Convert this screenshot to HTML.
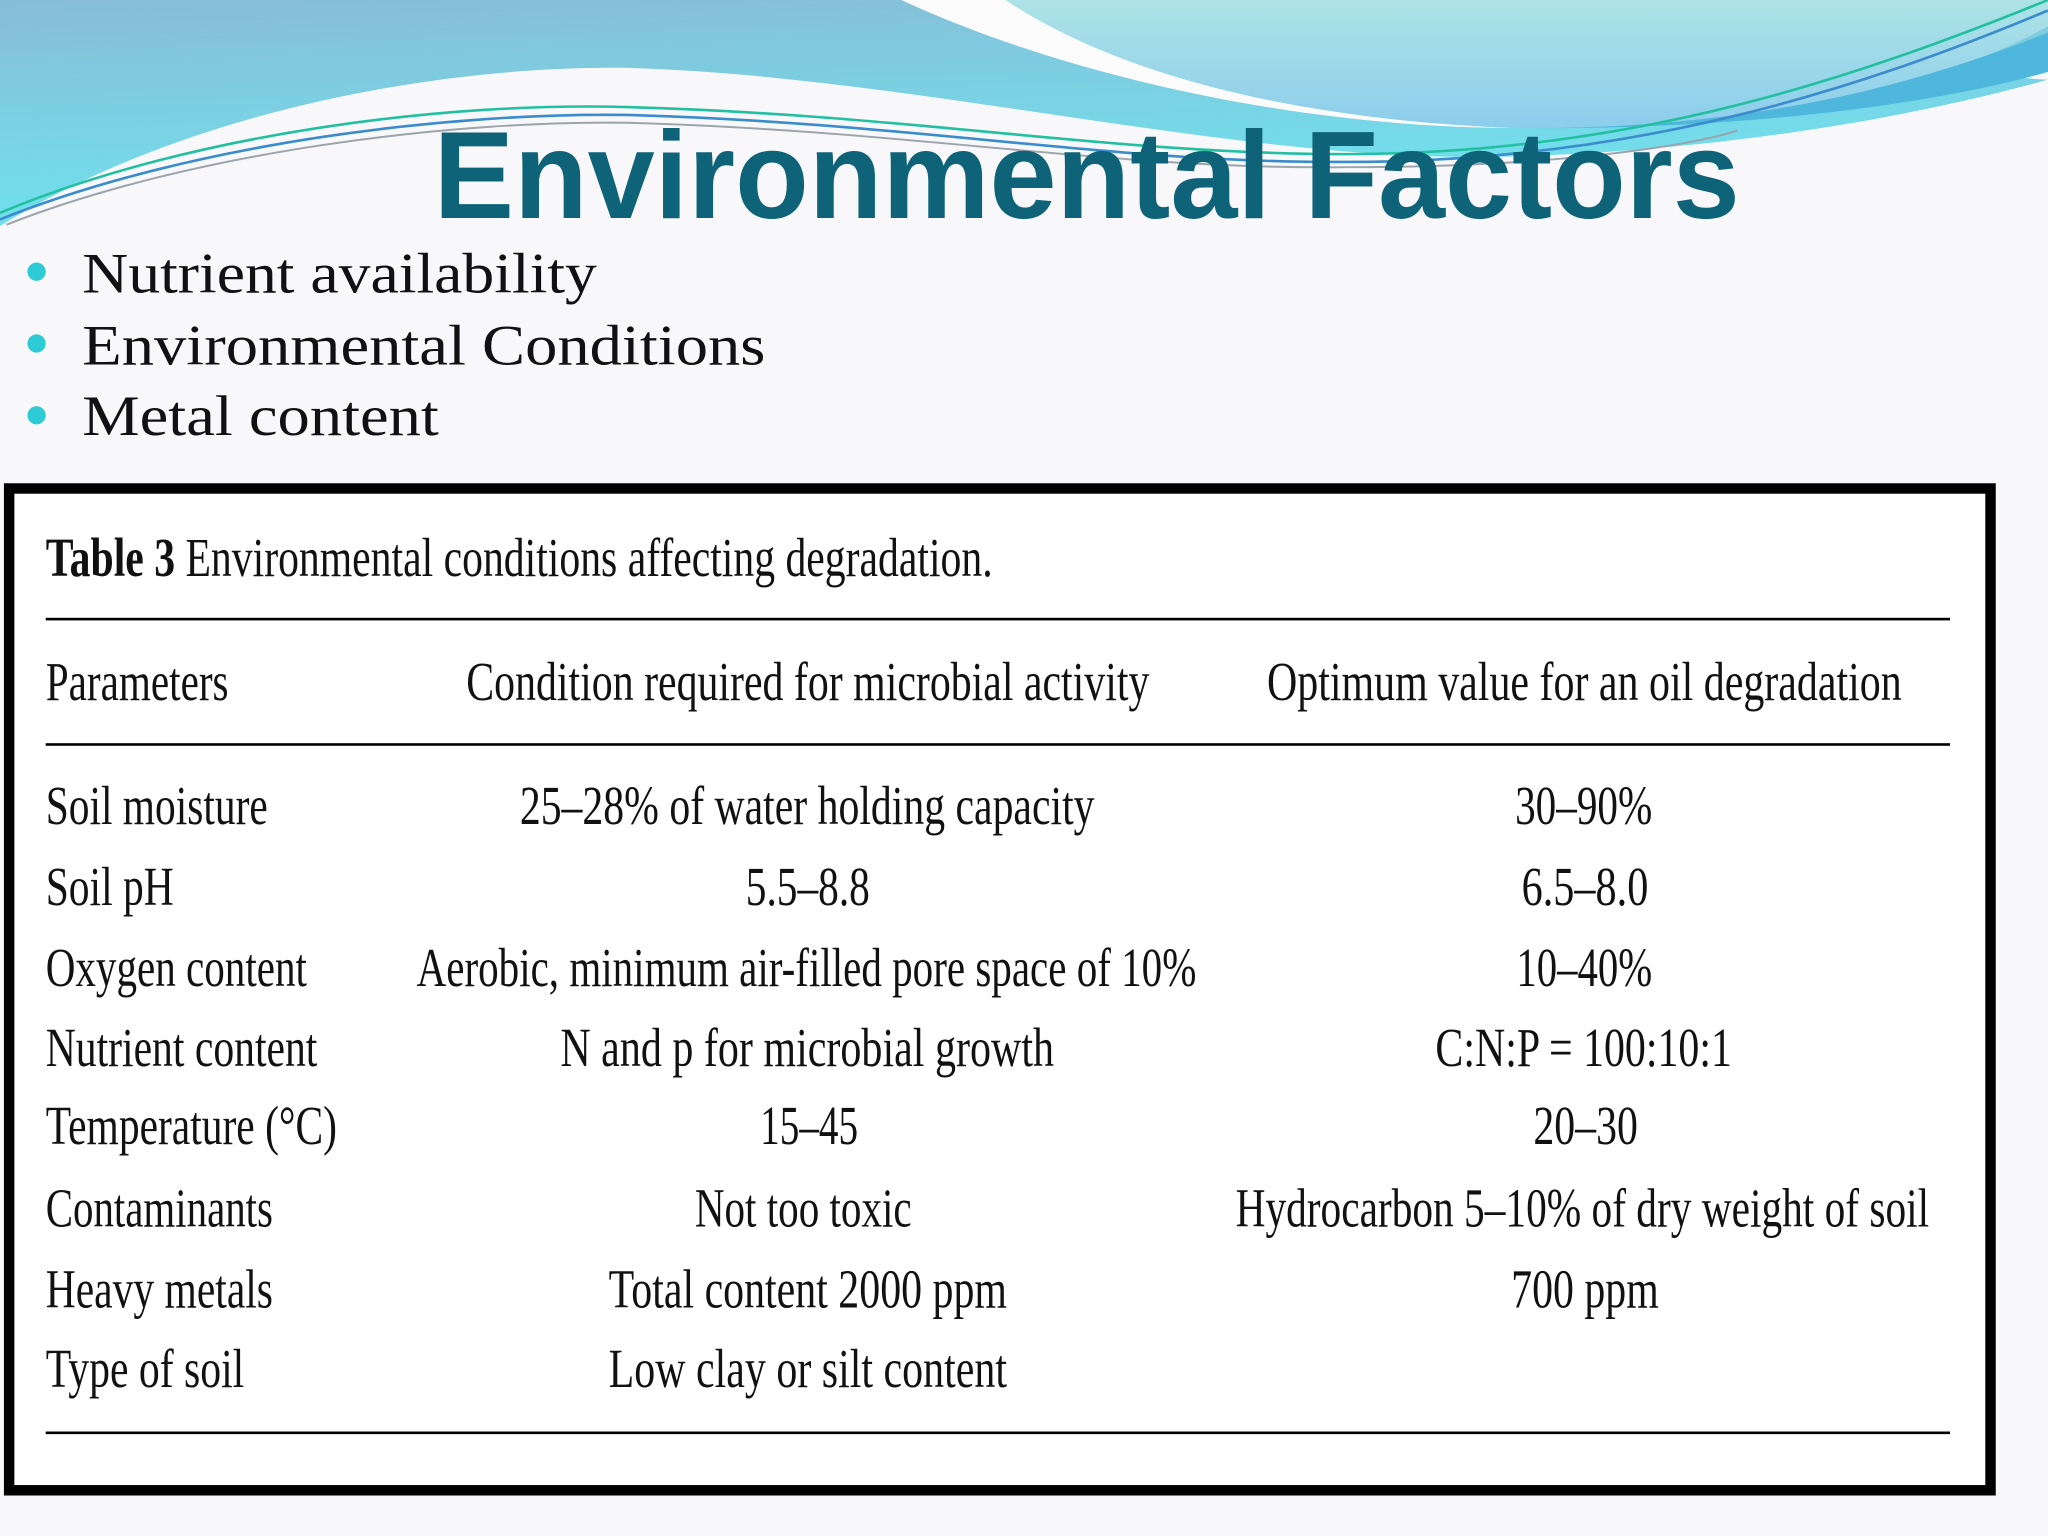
<!DOCTYPE html>
<html><head><meta charset="utf-8"><style>
html,body{margin:0;padding:0;width:2048px;height:1536px;overflow:hidden;background:#f8f8fa}
svg{display:block}
.t{font-family:"Liberation Serif",serif;font-size:42px;fill:#111}
</style></head><body>
<svg width="2048" height="1536" viewBox="0 0 1568 1176" xmlns="http://www.w3.org/2000/svg">
<defs>
<linearGradient id="gA" x1="0" y1="0" x2="0.3" y2="1"><stop offset="0" stop-color="#88bcd6"/><stop offset="1" stop-color="#6ee4ef"/></linearGradient>
<linearGradient id="gB" x1="0" y1="0" x2="0" y2="1"><stop offset="0" stop-color="#ade3e6"/><stop offset="1" stop-color="#8ccdec"/></linearGradient>
</defs>
<rect width="1568" height="1176" fill="#f8f8fa"/>
<g>
<path d="M0,0 H1568 V40 C1520,55 1540,60 1568,61 C1500,80 1350,115 1150,120 C950,125 700,58 480,52 C350,50 150,80 0,173 Z" fill="url(#gA)"/>
<path d="M690,0 H770 C860,60 1000,92 1160,98 C1000,98 820,60 690,0 Z" fill="#fbfbfc"/>
<path d="M770,0 H1568 V20 C1500,60 1350,100 1160,98 C1000,92 860,60 770,0 Z" fill="url(#gB)"/>
<path d="M1160,98 C1350,100 1480,60 1568,25 V55 C1480,80 1330,100 1160,98 Z" fill="#4fb6dc"/>
<path d="M0,163 C150,100 350,78 480,82 C700,88 850,118 1030,118 C1250,118 1420,60 1568,0" fill="none" stroke="#22c0a0" stroke-width="2"/>
<path d="M0,168 C150,108 350,86 480,88 C700,94 850,125 1030,124 C1250,124 1420,70 1568,8" fill="none" stroke="#3a8ccc" stroke-width="2"/>
<path d="M5,172 C150,115 350,92 480,94 C700,100 850,130 1030,128 C1200,128 1300,110 1330,100" fill="none" stroke="#9aa4aa" stroke-width="1.5"/>
</g>
<text x="332" y="167" textLength="1000" lengthAdjust="spacingAndGlyphs" font-family="Liberation Sans, sans-serif" font-weight="bold" font-size="95" fill="#0e6379">Environmental Factors</text>
<g font-family="Liberation Serif, serif" font-size="44" fill="#111">
<circle cx="28" cy="208" r="7" fill="#2ccbd6"/><text x="63" y="224" textLength="394" lengthAdjust="spacingAndGlyphs">Nutrient availability</text>
<circle cx="28" cy="263" r="7" fill="#2ccbd6"/><text x="63" y="279" textLength="523" lengthAdjust="spacingAndGlyphs">Environmental Conditions</text>
<circle cx="28" cy="318" r="7" fill="#2ccbd6"/><text x="63" y="333" textLength="273" lengthAdjust="spacingAndGlyphs">Metal content</text>
</g>
<g>
<rect x="7" y="374" width="1517" height="767" fill="#fff" stroke="#000" stroke-width="8"/>
<text class="t" x="35" y="441" textLength="725" lengthAdjust="spacingAndGlyphs"><tspan font-weight="bold">Table 3</tspan> Environmental conditions affecting degradation.</text>
<rect x="35" y="473" width="1458" height="2" fill="#000"/>
<rect x="35" y="569" width="1458" height="2" fill="#000"/>
<rect x="35" y="1096" width="1458" height="2" fill="#000"/>
<text class="t" x="35" y="536" textLength="140" lengthAdjust="spacingAndGlyphs">Parameters</text>
<text class="t" x="357" y="536" textLength="523" lengthAdjust="spacingAndGlyphs">Condition required for microbial activity</text>
<text class="t" x="970" y="536" textLength="486" lengthAdjust="spacingAndGlyphs">Optimum value for an oil degradation</text>
<g>
<text class="t" x="35" y="631" textLength="170" lengthAdjust="spacingAndGlyphs">Soil moisture</text>
<text class="t" x="398" y="631" textLength="440" lengthAdjust="spacingAndGlyphs">25–28% of water holding capacity</text>
<text class="t" x="1160" y="631" textLength="105" lengthAdjust="spacingAndGlyphs">30–90%</text>
<text class="t" x="35" y="693" textLength="98" lengthAdjust="spacingAndGlyphs">Soil pH</text>
<text class="t" x="571" y="693" textLength="95" lengthAdjust="spacingAndGlyphs">5.5–8.8</text>
<text class="t" x="1165" y="693" textLength="97" lengthAdjust="spacingAndGlyphs">6.5–8.0</text>
<text class="t" x="35" y="755" textLength="200" lengthAdjust="spacingAndGlyphs">Oxygen content</text>
<text class="t" x="319" y="755" textLength="597" lengthAdjust="spacingAndGlyphs">Aerobic, minimum air-filled pore space of 10%</text>
<text class="t" x="1161" y="755" textLength="104" lengthAdjust="spacingAndGlyphs">10–40%</text>
<text class="t" x="35" y="816" textLength="208" lengthAdjust="spacingAndGlyphs">Nutrient content</text>
<text class="t" x="429" y="816" textLength="378" lengthAdjust="spacingAndGlyphs">N and p for microbial growth</text>
<text class="t" x="1099" y="816" textLength="227" lengthAdjust="spacingAndGlyphs">C:N:P = 100:10:1</text>
<text class="t" x="35" y="876" textLength="223" lengthAdjust="spacingAndGlyphs">Temperature (°C)</text>
<text class="t" x="582" y="876" textLength="75" lengthAdjust="spacingAndGlyphs">15–45</text>
<text class="t" x="1174" y="876" textLength="80" lengthAdjust="spacingAndGlyphs">20–30</text>
<text class="t" x="35" y="939" textLength="174" lengthAdjust="spacingAndGlyphs">Contaminants</text>
<text class="t" x="532" y="939" textLength="166" lengthAdjust="spacingAndGlyphs">Not too toxic</text>
<text class="t" x="946" y="939" textLength="531" lengthAdjust="spacingAndGlyphs">Hydrocarbon 5–10% of dry weight of soil</text>
<text class="t" x="35" y="1001" textLength="174" lengthAdjust="spacingAndGlyphs">Heavy metals</text>
<text class="t" x="466" y="1001" textLength="305" lengthAdjust="spacingAndGlyphs">Total content 2000 ppm</text>
<text class="t" x="1157" y="1001" textLength="113" lengthAdjust="spacingAndGlyphs">700 ppm</text>
<text class="t" x="35" y="1062" textLength="152" lengthAdjust="spacingAndGlyphs">Type of soil</text>
<text class="t" x="466" y="1062" textLength="305" lengthAdjust="spacingAndGlyphs">Low clay or silt content</text>
</g>
</g>
</svg>
</body></html>
